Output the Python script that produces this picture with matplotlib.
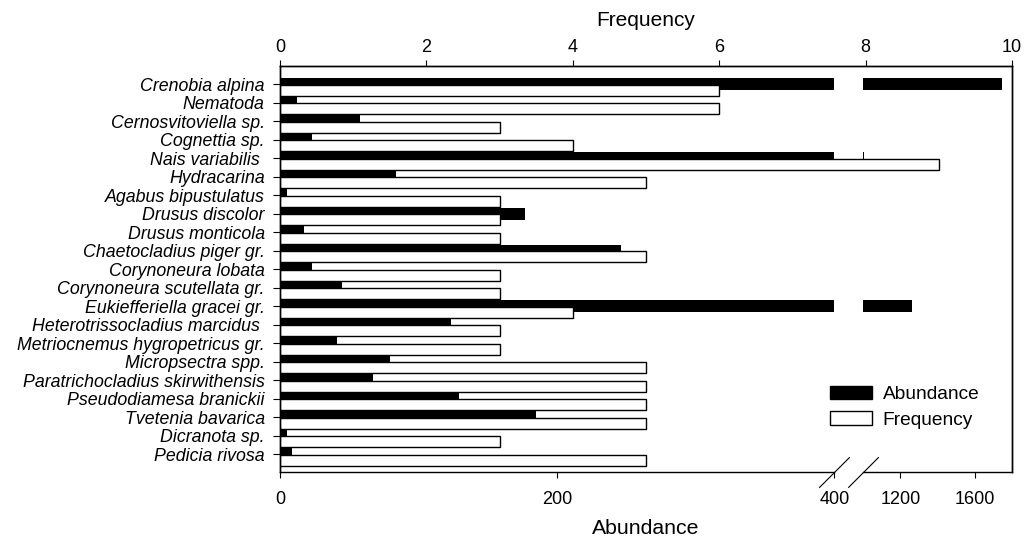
import numpy as np
import matplotlib.pyplot as plt

species = ['Crenobia alpina', 'Nematoda', 'Cernosvitoviella sp.', 'Cognettia sp.',
           'Nais variabilis ', 'Hydracarina', 'Agabus bipustulatus', 'Drusus discolor',
           'Drusus monticola', 'Chaetocladius piger gr.', 'Corynoneura lobata',
           'Corynoneura scutellata gr.', 'Eukiefferiella gracei gr.',
           'Heterotrissocladius marcidus ', 'Metriocnemus hygropetricus gr.',
           'Micropsectra spp.', 'Paratrichocladius skirwithensis', 'Pseudodiamesa branickii',
           'Tvetenia bavarica', 'Dicranota sp.', 'Pedicia rivosa']
abundance = [1744, 12, 58, 23, 1005, 84, 5, 177, 17, 246, 23, 45, 1263, 123, 41, 79, 67, 129, 185, 5, 9]
frequency = [6, 6, 3, 4, 9, 5, 3, 3, 3, 5, 3, 3, 4, 3, 3, 5, 5, 5, 5, 3, 5]
abundance_ticks = [0, 200, 400, 1200, 1600]
frequency_ticks = [0, 2, 4, 6, 8, 10]

# broken abundance axis: the 400-1000 range is cut out
break_lo, break_hi = 400, 1000
scale_abund = [0, break_lo, break_hi, 4000]
scale_pos = [0, 7.575, 7.965, 7.965 + 3000 * 0.002545]


def forward(a):
    return np.interp(a, scale_abund, scale_pos)


def inverse(p):
    return np.interp(p, scale_pos, scale_abund)


plt.rcParams['font.family'] = 'Liberation Sans'
plt.rcParams['font.size'] = 12.8

fig = plt.figure(figsize=(10.27, 5.41), dpi=100)
ax = fig.add_axes([280 / 1027, 69 / 541, 732 / 1027, 406.5 / 541])
ax.set_xscale('function', functions=(forward, inverse))
ax.set_xlim(0, inverse(10))

y = np.arange(len(species))
abund = np.array(abundance)

# abundance bars, drawn in two pieces around the break
ax.barh(y, np.minimum(abund, break_lo), height=0.65, color='black', linewidth=0)
big = abund > break_hi
ax.barh(y[big], abund[big] - break_hi, left=break_hi, height=0.65, color='black', linewidth=0)

ax.set_ylim(20.96, -1.016)
ax.set_yticks(y)
ax.set_yticklabels(species, style='italic')
ax.tick_params(axis='y', direction='out', length=5, pad=6)

ax.set_xticks(abundance_ticks)
ax.set_xticklabels([str(t) for t in abundance_ticks], fontsize=13)
ax.tick_params(axis='x', direction='out', length=4.5, pad=9)
ax.xaxis.get_major_ticks()[2].tick1line.set_visible(False)
ax.set_xlabel('Abundance', fontsize=15.3, labelpad=8)

ax.spines['bottom'].set_visible(False)
xt = ax.get_xaxis_transform()
ax.plot([0, break_lo], [0, 0], color='black', lw=1, transform=xt, clip_on=False)
ax.plot([break_hi, inverse(10)], [0, 0], color='black', lw=1, transform=xt, clip_on=False)
ax.plot([break_lo, break_hi], [0, 0], transform=xt, marker=[(-1, -1), (1, 1)],
        markersize=22, linestyle='none', color='black', mec='black', mew=0.8, clip_on=False)

# frequency on the top axis
ax2 = ax.twiny()
ax2.set_xlim(0, 10)
ax2.barh(y + 0.33, frequency, height=0.6, facecolor='white', edgecolor='black', linewidth=1)
ax2.set_xticks(frequency_ticks)
ax2.set_xticklabels([str(t) for t in frequency_ticks], fontsize=13)
ax2.tick_params(axis='x', direction='out', length=4.5, pad=2)
ax2.set_xlabel('Frequency', fontsize=15, labelpad=9.5)
ax2.spines['bottom'].set_visible(False)

for a in (ax, ax2):
    for s in a.spines.values():
        s.set_linewidth(1)

h1 = plt.Rectangle((0, 0), 1, 1, facecolor='black', edgecolor='black')
h2 = plt.Rectangle((0, 0), 1, 1, facecolor='white', edgecolor='black', linewidth=1)
ax2.legend([h1, h2], ['Abundance', 'Frequency'], loc='upper left', fontsize=13.8,
           bbox_to_anchor=(830 / 1027, 1 - 386 / 541), bbox_transform=fig.transFigure,
           frameon=False, borderpad=0, borderaxespad=0, handlelength=2.2,
           handleheight=0.68, handletextpad=0.55, labelspacing=0.42)

fig.savefig('out.png', dpi=100)
